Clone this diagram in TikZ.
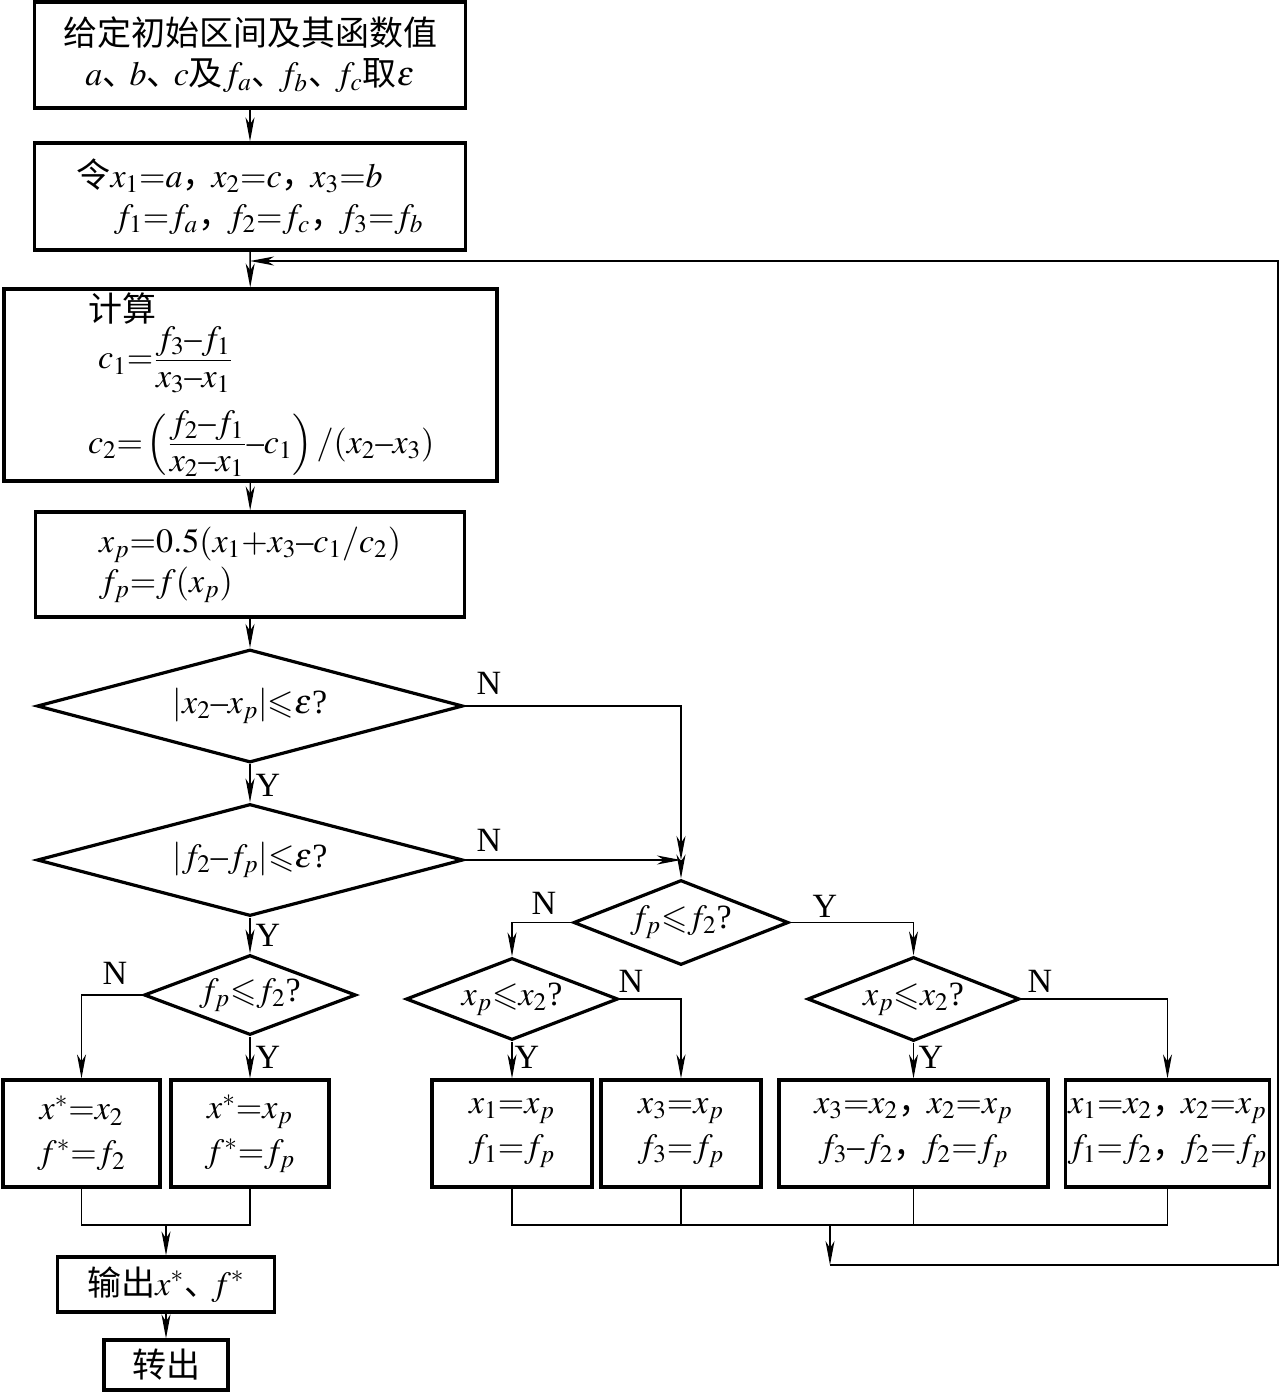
\documentclass[tikz,border=0pt]{standalone}
\usepackage{amsmath}
\usepackage{mathptmx}
\usepackage{amssymb}
\usepackage{fontspec}
\setmainfont{Liberation Serif}
\newfontfamily\cjk{Noto Sans CJK SC}
\usetikzlibrary{
  shapes.geometric,
  arrows.meta
}
\newcommand{\mi}{\mathord{\text{–}}}
\newcommand{\leqs}{\mathord{\leqslant}}
\newcommand{\cm}{{\cjk ，}\hspace{-0.15em}}
\newcommand{\dn}{{\cjk 、}\hspace{-0.2em}}
\newcommand{\mfrac}[2]{\frac{\displaystyle #1\rule[-4.5pt]{0pt}{1pt}}{\displaystyle\rule{0pt}{12.5pt}#2}}
\tikzset{
  procbox/.style={
    draw,
    line width=1.6pt,
    rectangle,
    inner sep=2pt,
    align=center
  },
  testbox/.style={
    draw,
    line width=1.6pt,
    diamond,
    aspect=2.5,
    inner sep=0pt
  },
  flow/.style={line width=0.7pt},
  arr/.style={flow, -{Stealth[length=12pt,width=4.5pt,inset=3.5pt]}},
  yn/.style={inner sep=0pt}
}

\begin{document}
\begin{tikzpicture}[x=0.5pt, y=-0.5pt, font=\fontsize{17}{20}\selectfont]
  \useasboundingbox (0,0) rectangle (1280,1392);
  % main column
  \node[procbox, minimum width=215.5pt, minimum height=53pt] (init) at (250,55)
    {{\cjk 给定初始区间及其函数值}\\$a$\dn$b$\dn$c${\cjk 及}$f_a$\dn$f_b$\dn$f_c${\cjk 取}$\varepsilon$};
  \node[procbox, minimum width=215.5pt, minimum height=53.5pt, align=left] (assign) at (250,196.5)
    {{\cjk 令}$x_1{=}a$\cm$x_2{=}c$\cm$x_3{=}b$\\\hspace{1.1em}$f_1{=}f_a$\cm$f_2{=}f_c$\cm$f_3{=}f_b$};
  \node[procbox, minimum width=246.5pt, minimum height=95pt, inner xsep=42pt, text width=162.5pt, align=left] (calc) at (250.5,385)
    {{\cjk 计算}\\
     \hspace{0.3em}$c_1{=}\mfrac{f_3\mi f_1}{x_3\mi x_1}$\\
     \hspace{0.3em}$c_2{=}\left(\mfrac{f_2\mi f_1}{x_2\mi x_1}\mi c_1\right)/(x_2\mi x_3)$};
  \node[procbox, minimum width=214.5pt, minimum height=52.5pt, align=left] (interp) at (250,564.5)
    {$x_p{=}0.5(x_1{+}x_3\mi c_1/c_2)$\\$f_p{=}f(x_p)$};
  \node[testbox, minimum width=213pt, minimum height=56.5pt] (d1) at (250,706) {$|x_2\mi x_p|\leqs\varepsilon$?};
  \node[testbox, minimum width=213pt, minimum height=56pt] (d2) at (250,860) {$|f_2\mi f_p|\leqs\varepsilon$?};
  % right branch
  \node[testbox, minimum width=107.5pt, minimum height=42.5pt] (d3) at (681,922.5) {$f_p\leqs f_2$?};
  \node[testbox, minimum width=106pt, minimum height=41pt] (d4) at (512,999) {$x_p\leqs x_2$?};
  \node[testbox, minimum width=106pt, minimum height=42pt] (d5) at (913.5,999) {$x_p\leqs x_2$?};
  \node[procbox, minimum width=80pt, minimum height=53.5pt] (ua) at (512,1133.5) {$x_1{=}x_p$\\[2pt]$f_1{=}f_p$};
  \node[procbox, minimum width=80pt, minimum height=53.5pt] (ub) at (681,1133.5) {$x_3{=}x_p$\\[2pt]$f_3{=}f_p$};
  \node[procbox, minimum width=134.5pt, minimum height=53.5pt] (uc) at (913.5,1133.5)
    {$x_3{=}x_2$\cm$x_2{=}x_p$\\[2pt]$f_3\mi f_2$\cm$f_2{=}f_p$};
  \node[procbox, minimum width=100.5pt, minimum height=53.5pt, inner xsep=1pt] (ud) at (1167.5,1133.5)
    {$x_1{=}x_2$\cm$x_2{=}x_p$\\[2pt]$f_1{=}f_2$\cm$f_2{=}f_p$};
  % left branch
  \node[testbox, minimum width=106pt, minimum height=40pt] (d6) at (250,995) {$f_p\leqs f_2$?};
  \node[procbox, minimum width=78.5pt, minimum height=53.5pt] (xs2) at (81.5,1133.5) {$x^*{=}x_2$\\[2pt]$f^*{=}f_2$};
  \node[procbox, minimum width=79pt, minimum height=53.5pt] (xsp) at (250,1133.5) {$x^*{=}x_p$\\[2pt]$f^*{=}f_p$};
  \node[procbox, minimum width=108.5pt, minimum height=27.5pt] (output) at (166,1284.5) {{\cjk 输出}$x^*$\dn$f^*$};
  \node[procbox, minimum width=62pt, minimum height=25pt] (turnout) at (166,1365) {{\cjk 转出}};
  % corners
  \coordinate (loopin) at (250,261);
  \coordinate (loopr) at (1278,261);
  \coordinate (merge) at (681,860);
  \coordinate (jl) at (166,1225);
  \coordinate (jr) at (830,1225);
  \coordinate (jrb) at (830,1265);
  % connectors
  \draw[arr] (init) -- (assign);
  \draw[arr] (assign) -- (calc);
  \draw[arr] (calc) -- (interp);
  \draw[arr] (interp) -- (d1);
  \draw[arr] (d1) -- (d2);
  \draw[arr] (d2) -- (d6);
  \draw[arr] (d1.east) -| (merge);
  \draw[arr] (d2.east) -- (merge);
  \draw[arr] (merge) -- (d3.north);
  \draw[arr] (d3.west) -| (d4.north);
  \draw[arr] (d3.east) -| (d5.north);
  \draw[arr] (d4.south) -- (ua.north);
  \draw[arr] (d4.east) -| (ub.north);
  \draw[arr] (d5.south) -- (uc.north);
  \draw[arr] (d5.east) -| (ud.north);
  \draw[flow] (ua.south) |- (ud.south |- jr) -- (ud.south);
  \draw[flow] (ub.south) -- (ub.south |- jr);
  \draw[flow] (uc.south) -- (uc.south |- jr);
  \draw[arr] (jr) -- (jrb);
  \draw[arr] (jrb) -| (loopr) -- (loopin);
  \draw[arr] (d6.west) -| (xs2.north);
  \draw[arr] (d6.south) -- (xsp.north);
  \draw[flow] (xs2.south) |- (jl) -| (xsp.south);
  \draw[arr] (jl) -- (output.north);
  \draw[arr] (output) -- (turnout);
  % Y/N labels
  \node[yn] (n1) at (489,683) {N};
  \node[yn] (y1) at (268,785) {Y};
  \node[yn] (n2) at (489,840) {N};
  \node[yn] (y2) at (268,935) {Y};
  \node[yn] (n3) at (544,903) {N};
  \node[yn] (y3) at (825,906) {Y};
  \node[yn] (n4) at (631,981) {N};
  \node[yn] (y4) at (527,1057) {Y};
  \node[yn] (n5) at (1040,981) {N};
  \node[yn] (y5) at (931,1057) {Y};
  \node[yn] (n6) at (115,973) {N};
  \node[yn] (y6) at (268,1057) {Y};
\end{tikzpicture}
\end{document}
